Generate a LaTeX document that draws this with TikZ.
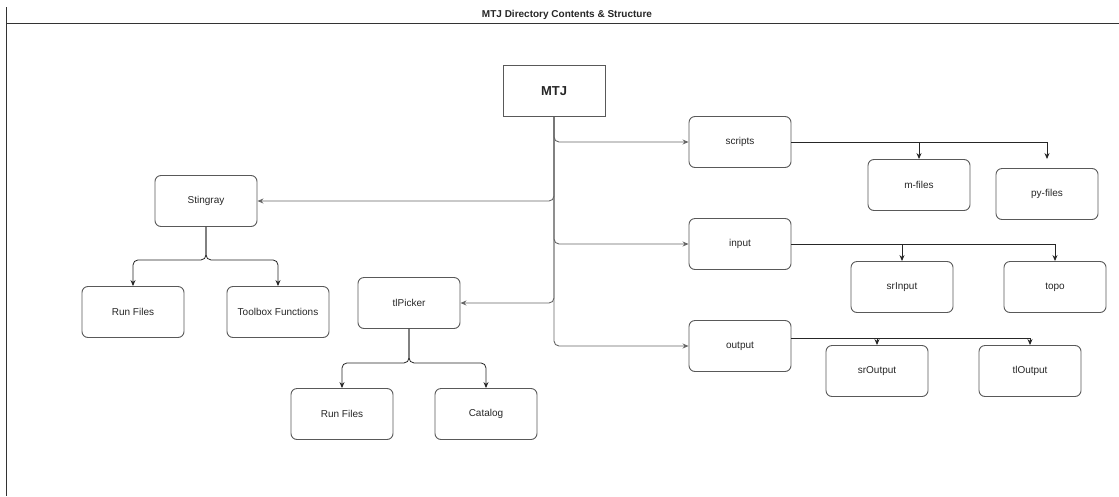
\documentclass[tikz,border=0pt]{standalone}
\usepackage{fontspec}
\setmainfont{Liberation Sans}
\usepackage{tikz}
\usetikzlibrary{arrows.meta, positioning, calc}

\begin{document}
\begin{tikzpicture}[
        x=1pt, y=-1pt,
        dirbox/.style={rectangle, draw=black!65, line width=0.9pt, rounded corners=6pt, minimum width=102pt, minimum height=51pt, align=center, text=black!85, font=\fontsize{10}{12}\selectfont},
        rootbox/.style={dirbox, rounded corners=0pt, font=\fontsize{13}{15}\selectfont\bfseries},
        trunk/.style={-{Stealth[length=6pt, width=5pt]}, draw=black!60, line width=0.9pt, rounded corners=5pt},
        arr/.style={-{Stealth[length=6pt, width=5pt]}, draw=black!85, line width=0.8pt, rounded corners=5pt}
    ]
        \useasboundingbox (0,0) rectangle (1119,496);

        % Rahmen und Titel
        \node[font=\fontsize{10}{12}\selectfont\bfseries, text=black!85] (title) at (567,15) {MTJ Directory Contents \& Structure};
        \draw[black!80, line width=1pt] (6,7) -- (6,496);
        \draw[black!80, line width=1pt] (6,23) -- (1119,23);

        \node[rootbox] (mtj) at (554,91) {MTJ};

        \node[dirbox] (stingray) at (206,201) {Stingray};
        \node[dirbox] (runA) at (133,312) {Run Files};
        \node[dirbox] (toolbox) at (278,312) {Toolbox Functions};

        \node[dirbox] (tlpicker) at (409,303) {tlPicker};
        \node[dirbox] (runB) at (342,414) {Run Files};
        \node[dirbox] (catalog) at (486,414) {Catalog};

        \node[dirbox] (scripts) at (740,142) {scripts};
        \node[dirbox] (mfiles) at (919,185) {m-files};
        \node[dirbox] (pyfiles) at (1047,194) {py-files};

        \node[dirbox] (input) at (740,244) {input};
        \node[dirbox] (srinput) at (902,287) {srInput};
        \node[dirbox] (topo) at (1055,287) {topo};

        \node[dirbox] (output) at (740,346) {output};
        \node[dirbox] (sroutput) at (877,371) {srOutput};
        \node[dirbox] (tloutput) at (1030,371) {tlOutput};

        % MTJ -> Unterordner
        \draw[trunk] (mtj.south) |- (stingray.east);
        \draw[trunk] (mtj.south) |- (tlpicker.east);
        \draw[trunk] (mtj.south) |- (scripts.west);
        \draw[trunk] (mtj.south) |- (input.west);
        \draw[trunk] (mtj.south) |- (output.west);

        % Stingray
        \draw[arr] (stingray.south) -- ++(0,33) -| (runA.north);
        \draw[arr] (stingray.south) -- ++(0,33) -| (toolbox.north);
        % tlPicker
        \draw[arr] (tlpicker.south) -- ++(0,34) -| (runB.north);
        \draw[arr] (tlpicker.south) -- ++(0,34) -| (catalog.north);
        % scripts
        \draw[arr, rounded corners=0pt] (scripts.east) -| (mfiles.north);
        \draw[arr, rounded corners=0pt, shorten >=9pt] (scripts.east) -| (pyfiles.north);
        % input
        \draw[arr, rounded corners=0pt] (input.east) -| (srinput.north);
        \draw[arr, rounded corners=0pt] (input.east) -| (topo.north);
        % output
        \draw[arr, rounded corners=0pt] ([yshift=8pt]output.east) -| (sroutput.north);
        \draw[arr, rounded corners=0pt] ([yshift=8pt]output.east) -| (tloutput.north);
    \end{tikzpicture}
\end{document}
